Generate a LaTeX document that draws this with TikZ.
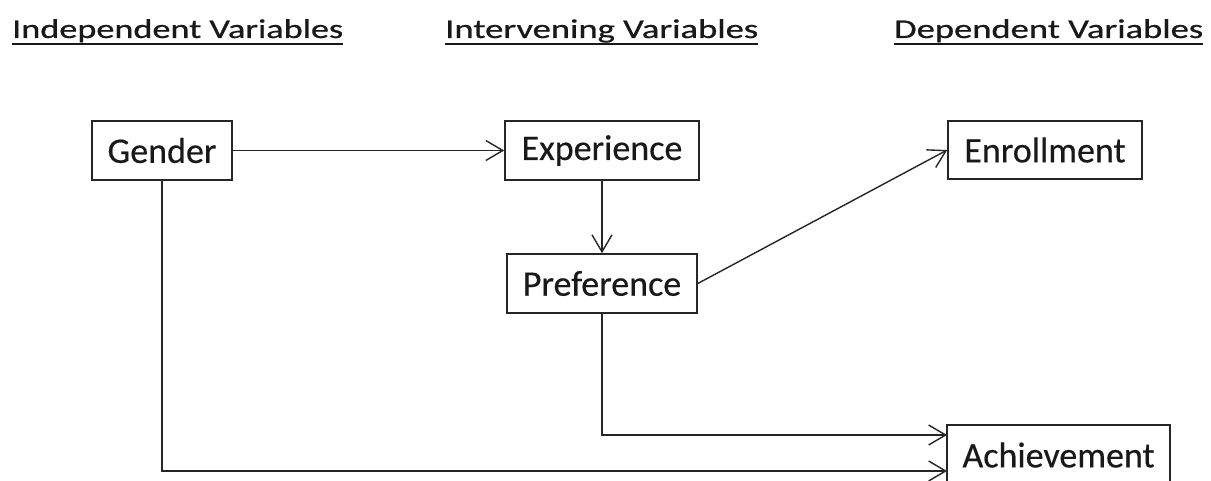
\documentclass[tikz,border=0pt]{standalone}
\usepackage{fontspec}
\setmainfont{Carlito}
\newfontfamily\headfont[FakeBold=0.6]{Carlito}
\newfontfamily\boxfont[FakeBold=0.4]{Carlito}
\usetikzlibrary{arrows.meta}
\tikzset{
  box/.style={draw=black!85, line width=1.6pt, inner sep=0pt, font=\boxfont\fontsize{36}{40}\selectfont, text=black!90},
  arr/.style={draw=black!85, line width=1.4pt, -{Straight Barb[length=17pt,width=20pt,line width=1.4pt]}},
  head/.style={inner sep=0pt, anchor=base west, font=\headfont\fontsize{27}{30}\selectfont, text=black!90},
  uline/.style={draw=black!90, line width=2.2pt}
}
\begin{document}
\begin{tikzpicture}[x=1pt,y=-1pt]
\useasboundingbox (0,0) rectangle (1211,481);
\clip (0,0) rectangle (1211,481);
\fill[white] (0,0) rectangle (1211,481);
\node[head] (h1) at (12,38) {\resizebox{331pt}{\height}{Independent Variables}};
\node[head] (h2) at (445,38) {\resizebox{313pt}{\height}{Intervening Variables}};
\node[head] (h3) at (894,38) {\resizebox{309pt}{\height}{Dependent Variables}};
\draw[uline] ([yshift=-6pt]h1.base west) -- ([yshift=-6pt]h1.base east);
\draw[uline] ([yshift=-6pt]h2.base west) -- ([yshift=-6pt]h2.base east);
\draw[uline] ([yshift=-6pt]h3.base west) -- ([yshift=-6pt]h3.base east);
\node[box, minimum width=140pt, minimum height=59pt] (gender) at (162,150.5) {Gender};
\node[box, minimum width=194pt, minimum height=59pt] (exp) at (602,150.5) {Experience};
\node[box, minimum width=190pt, minimum height=59pt] (pref) at (602,283.5) {Preference};
\node[box, minimum width=194pt, minimum height=58pt] (enr) at (1045,150) {Enrollment};
\node[box, minimum width=223pt, minimum height=60pt] (ach) at (1058.5,455) {Achievement};
\coordinate (a1) at (947,435);
\coordinate (a2) at (947,471);
\draw[arr] (gender) -- (exp);
\draw[arr] (exp) -- (pref);
\draw[arr] (pref.east) -- (enr.west);
\draw[arr] (pref.south) |- (a1);
\draw[arr] (gender.south) |- (a2);
\end{tikzpicture}
\end{document}
